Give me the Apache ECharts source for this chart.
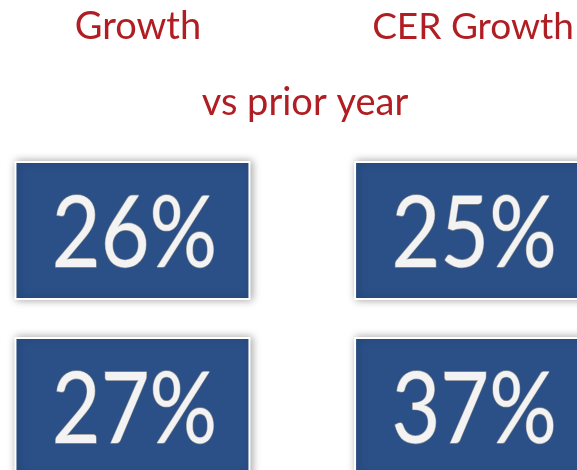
<!DOCTYPE html>
<html><head><meta charset="utf-8">
<script src="https://cdn.jsdelivr.net/npm/echarts@6/dist/echarts.min.js"></script>
<style>html,body{margin:0;padding:0;background:#fff}#c{width:577px;height:470px}</style>
</head><body><div id="c"></div>
<script>
const columns = ["Growth", "CER Growth"];
const rows = ["Row 1", "Row 2"];
const subtitle = "vs prior year";
const growth = [26, 27];
const cerGrowth = [25, 37];

const data = [];
rows.forEach((r, i) => {
  data.push([0, i, growth[i]]);
  data.push([1, i, cerGrowth[i]]);
});

const chart = echarts.init(document.getElementById('c'));
chart.setOption({
  backgroundColor: '#ffffff',
  animation: false,
  title: {
    text: subtitle, left: 300, top: 79, textAlign: 'center',
    textStyle: { color: '#B01E23', fontFamily: 'Lato', fontWeight: 'normal', fontSize: 38 }
  },
  grid: { left: 0, right: 0, top: 141.5, bottom: 0 },
  xAxis: {
    type: 'value', position: 'top',
    min: -0.390, max: 1.2846,
    axisLine: { show: false }, axisTick: { show: false }, splitLine: { show: false },
    axisLabel: {
      customValues: [0, 1],
      formatter: function (v) { return '{c' + Math.round(v) + '|' + columns[Math.round(v)] + '}'; },
      color: '#B01E23', fontFamily: 'Lato', fontSize: 38, margin: 96,
      rich: {
        c0: { color: '#B01E23', fontFamily: 'Lato', fontSize: 38, padding: [0, 0, 0, 11] },
        c1: { color: '#B01E23', fontFamily: 'Lato', fontSize: 37, padding: [0, 0, 0, 2] }
      }
    }
  },
  yAxis: {
    type: 'value', inverse: true, show: false,
    min: -0.506, max: 1.3605
  },
  series: [{
    type: 'custom',
    data: data,
    clip: false,
    encode: { x: 0, y: 1 },
    renderItem: function (params, api) {
      const c = api.coord([api.value(0), api.value(1)]);
      const w = 234, h = 137;
      return {
        type: 'group',
        children: [{
          type: 'rect',
          shape: { x: c[0] - w / 2, y: c[1] - h / 2, width: w, height: h },
          style: {
            fill: '#2B5088', stroke: '#ffffff', lineWidth: 2,
            shadowBlur: 8, shadowColor: 'rgba(0,0,0,0.35)', shadowOffsetX: 2, shadowOffsetY: 0
          }
        }, {
          type: 'text',
          x: c[0] + 2, y: c[1] + 5,
          scaleX: 0.86,
          style: {
            text: api.value(2) + '%',
            align: 'center', verticalAlign: 'middle',
            fontFamily: 'Lato', fontSize: 98,
            fill: '#f3f3f3', stroke: '#8c8c8c', lineWidth: 1.4,
            shadowBlur: 3, shadowColor: 'rgba(0,0,0,0.45)', shadowOffsetX: 1, shadowOffsetY: 2
          }
        }]
      };
    }
  }]
});
</script></body></html>
